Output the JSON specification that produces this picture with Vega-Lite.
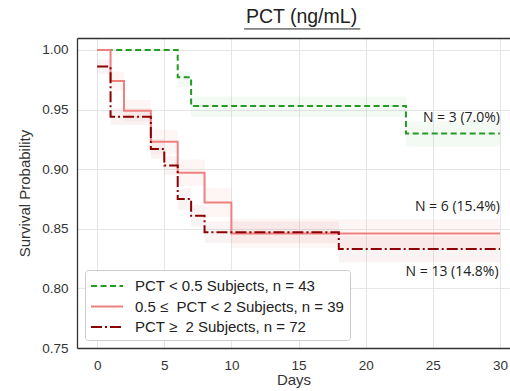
{
  "$schema": "https://vega.github.io/schema/vega-lite/v6.json",
  "width": 433,
  "height": 310,
  "autosize": "none",
  "padding": {"left": 77, "top": 38, "right": 0, "bottom": 43},
  "background": "white",
  "title": {"text": "PCT (ng/mL)", "font": "Liberation Sans", "fontSize": 19.5, "fontWeight": "normal", "color": "#222", "anchor": "middle", "dx": 8, "offset": 1},
  "config": {
    "view": {"stroke": null},
    "axis": {"gridColor": "#e6e6e6", "gridWidth": 1, "domainColor": "#333", "domainWidth": 1.3, "ticks": false, "labelFont": "Liberation Sans", "labelFontSize": 13.5, "labelColor": "#333", "titleFont": "Liberation Sans", "titleFontSize": 15, "titleFontWeight": "normal", "titleColor": "#333"},
    "legend": {"orient": "bottom-left", "offset": 8, "fillColor": "white", "strokeColor": "#cccccc", "cornerRadius": 3, "padding": 5, "labelFont": "Liberation Sans", "labelFontSize": 15, "labelColor": "#222", "symbolType": "M-1,0H2.2", "symbolSize": 400, "symbolStrokeWidth": 2, "labelLimit": 400, "rowPadding": 1.5, "labelOffset": 23}
  },
  "datasets": {
    "km": [
      {"group": "PCT < 0.5 Subjects, n = 43", "day": 0, "s": 1.0, "lo": 1.0, "hi": 1.0},
      {"group": "PCT < 0.5 Subjects, n = 43", "day": 6, "s": 0.977, "lo": 0.969, "hi": 0.9815},
      {"group": "PCT < 0.5 Subjects, n = 43", "day": 7, "s": 0.953, "lo": 0.944, "hi": 0.961},
      {"group": "PCT < 0.5 Subjects, n = 43", "day": 23, "s": 0.930, "lo": 0.919, "hi": 0.940},
      {"group": "PCT < 0.5 Subjects, n = 43", "day": 30, "s": 0.930, "lo": 0.919, "hi": 0.940},
      {"group": "0.5 ≤\u00a0 PCT < 2 Subjects, n = 39", "day": 0, "s": 1.0, "lo": 1.0, "hi": 1.0},
      {"group": "0.5 ≤\u00a0 PCT < 2 Subjects, n = 39", "day": 1, "s": 0.974, "lo": 0.966, "hi": 0.982},
      {"group": "0.5 ≤\u00a0 PCT < 2 Subjects, n = 39", "day": 2, "s": 0.949, "lo": 0.940, "hi": 0.958},
      {"group": "0.5 ≤\u00a0 PCT < 2 Subjects, n = 39", "day": 4, "s": 0.923, "lo": 0.913, "hi": 0.933},
      {"group": "0.5 ≤\u00a0 PCT < 2 Subjects, n = 39", "day": 6, "s": 0.897, "lo": 0.886, "hi": 0.908},
      {"group": "0.5 ≤\u00a0 PCT < 2 Subjects, n = 39", "day": 8, "s": 0.872, "lo": 0.860, "hi": 0.884},
      {"group": "0.5 ≤\u00a0 PCT < 2 Subjects, n = 39", "day": 10, "s": 0.846, "lo": 0.834, "hi": 0.858},
      {"group": "0.5 ≤\u00a0 PCT < 2 Subjects, n = 39", "day": 30, "s": 0.846, "lo": 0.834, "hi": 0.858},
      {"group": "PCT ≥\u00a0 2 Subjects, n = 72", "day": 0, "s": 0.986, "lo": 0.980, "hi": 0.992},
      {"group": "PCT ≥\u00a0 2 Subjects, n = 72", "day": 1, "s": 0.944, "lo": 0.937, "hi": 0.951},
      {"group": "PCT ≥\u00a0 2 Subjects, n = 72", "day": 4, "s": 0.917, "lo": 0.909, "hi": 0.925},
      {"group": "PCT ≥\u00a0 2 Subjects, n = 72", "day": 5, "s": 0.903, "lo": 0.895, "hi": 0.911},
      {"group": "PCT ≥\u00a0 2 Subjects, n = 72", "day": 6, "s": 0.875, "lo": 0.866, "hi": 0.884},
      {"group": "PCT ≥\u00a0 2 Subjects, n = 72", "day": 7, "s": 0.861, "lo": 0.852, "hi": 0.870},
      {"group": "PCT ≥\u00a0 2 Subjects, n = 72", "day": 8, "s": 0.847, "lo": 0.838, "hi": 0.856},
      {"group": "PCT ≥\u00a0 2 Subjects, n = 72", "day": 18, "s": 0.833, "lo": 0.822, "hi": 0.844},
      {"group": "PCT ≥\u00a0 2 Subjects, n = 72", "day": 30, "s": 0.833, "lo": 0.822, "hi": 0.844}
    ],
    "notes": [
      {"x": 30, "y": 0.943, "label": "N = 3 (7.0%)"},
      {"x": 30, "y": 0.868, "label": "N = 6 (15.4%)"},
      {"x": 29.9, "y": 0.814, "label": "N = 13 (14.8%)"}
    ],
    "underline": [
      {"x": 10.95, "x2": 19.6, "y": 1.0176}
    ]
  },
  "layer": [
    {
      "data": {"name": "km"},
      "transform": [{"filter": "datum.group === 'PCT < 0.5 Subjects, n = 43'"}],
      "mark": {"type": "area", "interpolate": "step-after", "opacity": 0.06, "color": "#2ca02c"},
      "encoding": {
        "x": {"field": "day", "type": "quantitative", "scale": {"domain": [-1.5, 30.75], "nice": false, "zero": false}, "axis": {"values": [0, 5, 10, 15, 20, 25, 30], "title": "Days", "labelPadding": 10, "titlePadding": 1, "grid": true}},
        "y": {"field": "lo", "type": "quantitative", "scale": {"domain": [0.75, 1.01], "nice": false, "zero": false}, "axis": {"values": [0.75, 0.8, 0.85, 0.9, 0.95, 1.0], "format": ".2f", "title": "Survival Probability", "labelPadding": 9, "titlePadding": 9, "grid": true}},
        "y2": {"field": "hi"}
      }
    },
    {
      "data": {"name": "km"},
      "transform": [{"filter": "datum.group === '0.5 ≤\u00a0 PCT < 2 Subjects, n = 39'"}],
      "mark": {"type": "area", "interpolate": "step-after", "opacity": 0.08, "color": "#f08080"},
      "encoding": {
        "x": {"field": "day", "type": "quantitative", "axis": null},
        "y": {"field": "lo", "type": "quantitative"},
        "y2": {"field": "hi"}
      }
    },
    {
      "data": {"name": "km"},
      "transform": [{"filter": "datum.group === 'PCT ≥\u00a0 2 Subjects, n = 72'"}],
      "mark": {"type": "area", "interpolate": "step-after", "opacity": 0.05, "color": "#a01010"},
      "encoding": {
        "x": {"field": "day", "type": "quantitative", "axis": null},
        "y": {"field": "lo", "type": "quantitative"},
        "y2": {"field": "hi"}
      }
    },
    {
      "data": {"name": "km"},
      "mark": {"type": "line", "interpolate": "step-after", "strokeWidth": 2},
      "encoding": {
        "x": {"field": "day", "type": "quantitative", "axis": null},
        "y": {"field": "s", "type": "quantitative"},
        "stroke": {"field": "group", "type": "nominal", "title": null, "scale": {"domain": ["PCT < 0.5 Subjects, n = 43", "0.5 ≤\u00a0 PCT < 2 Subjects, n = 39", "PCT ≥\u00a0 2 Subjects, n = 72"], "range": ["#239b23", "#f08080", "#8b0000"]}},
        "strokeDash": {"field": "group", "type": "nominal", "title": null, "scale": {"domain": ["PCT < 0.5 Subjects, n = 43", "0.5 ≤\u00a0 PCT < 2 Subjects, n = 39", "PCT ≥\u00a0 2 Subjects, n = 72"], "range": [[6, 3.5], [1, 0], [11, 3, 2, 3]]}}
      }
    },
    {
      "data": {"name": "notes"},
      "mark": {"type": "text", "align": "right", "baseline": "middle", "font": "Open Sans", "fontSize": 14, "color": "#222"},
      "encoding": {
        "x": {"field": "x", "type": "quantitative", "axis": {"orient": "top", "labels": false, "ticks": false, "grid": false, "title": null, "domainColor": "#333"}},
        "y": {"field": "y", "type": "quantitative"},
        "text": {"field": "label"}
      }
    },
    {
      "data": {"name": "underline"},
      "mark": {"type": "rule", "color": "#222", "strokeWidth": 1, "clip": false},
      "encoding": {
        "x": {"field": "x", "type": "quantitative", "axis": null},
        "x2": {"field": "x2"},
        "y": {"field": "y", "type": "quantitative"}
      }
    }
  ],
  "resolve": {"axis": {"x": "independent"}}
}
